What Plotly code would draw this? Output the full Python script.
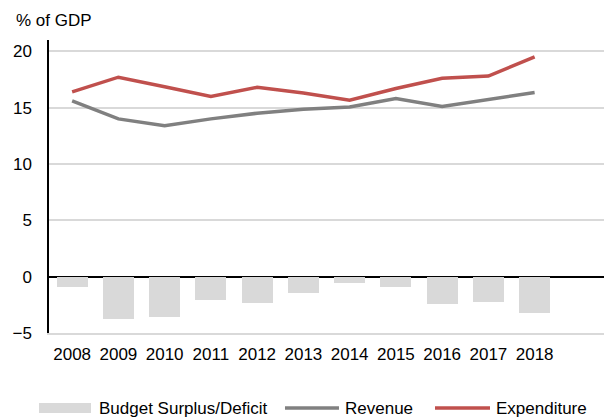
import plotly.graph_objects as go

years = [2008, 2009, 2010, 2011, 2012, 2013, 2014, 2015, 2016, 2017, 2018]
revenue = [15.6, 14.0, 13.4, 14.0, 14.5, 14.85, 15.05, 15.8, 15.1, 15.7, 16.35]
expenditure = [16.4, 17.7, 16.85, 16.0, 16.8, 16.3, 15.65, 16.7, 17.6, 17.8, 19.5]
balance = [-0.9, -3.75, -3.55, -2.1, -2.35, -1.45, -0.6, -0.95, -2.45, -2.25, -3.2]
y_ticks = [-5, 0, 5, 10, 15, 20]

FONT = "Liberation Sans, Arial, sans-serif"
FS = 17
BAR_C = "#d9d9d9"
REV_C = "#808080"
EXP_C = "#c0504d"
GRID_C = "#d9d9d9"

fig = go.Figure()
fig.add_trace(go.Bar(x=years, y=balance, width=0.67, marker_color=BAR_C,
                     marker_line_width=0, name="Budget Surplus/Deficit",
                     showlegend=False))
fig.add_trace(go.Scatter(x=years, y=revenue, mode="lines", name="Revenue",
                         line=dict(color=REV_C, width=3.5), showlegend=False))
fig.add_trace(go.Scatter(x=years, y=expenditure, mode="lines", name="Expenditure",
                         line=dict(color=EXP_C, width=3.5), showlegend=False))

# Legend drawn below the plot: swatches as shapes, labels as annotations
leg_y = -0.256
shapes = [
    dict(type="rect", xref="paper", yref="paper", x0=-0.018, x1=0.0757,
         y0=-0.2389, y1=-0.273, fillcolor=BAR_C, line_width=0, layer="above"),
    dict(type="line", xref="paper", yref="paper", x0=0.4252, x1=0.5225,
         y0=leg_y, y1=leg_y, line=dict(color=REV_C, width=3.5)),
    dict(type="line", xref="paper", yref="paper", x0=0.6955, x1=0.7946,
         y0=leg_y, y1=leg_y, line=dict(color=EXP_C, width=3.5)),
]
annotations = [
    dict(text="Budget Surplus/Deficit", x=0.0856, y=leg_y),
    dict(text="Revenue", x=0.5297, y=leg_y),
    dict(text="Expenditure", x=0.8018, y=leg_y),
    dict(text="% of GDP", x=-0.063, y=1.068),
]
for a in annotations:
    a.update(xref="paper", yref="paper", xanchor="left", yanchor="middle",
             showarrow=False, font=dict(family=FONT, size=FS, color="#000"))

fig.update_layout(
    width=604, height=418,
    margin=dict(l=49, r=0, t=40, b=85),
    paper_bgcolor="white", plot_bgcolor="white",
    font=dict(family=FONT, size=FS, color="#000"),
    bargap=0, shapes=shapes, annotations=annotations,
    xaxis=dict(range=[2007.5, 2019.5], tickvals=years,
               ticktext=[str(y) for y in years],
               showgrid=False, zeroline=False,
               showline=True, linecolor=GRID_C, linewidth=1.5,
               ticks="", ticklabelstandoff=5),
    yaxis=dict(range=[-5, 21], tickvals=y_ticks,
               showgrid=True, gridcolor=GRID_C, gridwidth=1.5,
               zeroline=True, zerolinecolor="#000", zerolinewidth=1.5,
               showline=True, linecolor="#000", linewidth=1.5,
               ticks="", ticklabelstandoff=12),
)

fig.write_html("out.html")
